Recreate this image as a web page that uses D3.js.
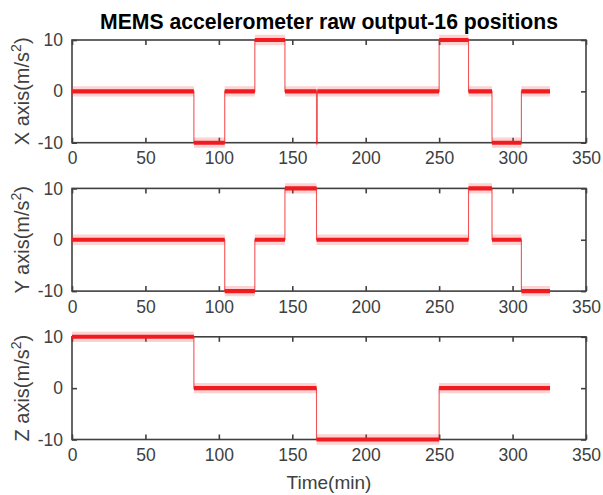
<!DOCTYPE html>
<html lang="en">
<head>
<meta charset="utf-8">
<title>MEMS accelerometer raw output</title>
<script src="https://cdn.jsdelivr.net/npm/d3@7"></script>
<style type="text/css">
body { margin: 0; background: #fff; }
text { font-family: "Liberation Sans", Arial, Helvetica, sans-serif; fill: #404040; }
</style>
</head>
<body>
<div id="chart"></div>
<script>
// time axis ticks (min) and acceleration ticks (m/s^2)
var timeTicks = [0, 50, 100, 150, 200, 250, 300, 350];
var accelTicks = [-10, 0, 10];

// step signal of each axis: edges in minutes, level held after each edge
var xEdges  = [0, 83, 104, 124.5, 145, 166.5, 167, 250, 270, 286, 306, 325.5];
var xLevels = [0, -10, 0, 10, 0, -10, 0, 10, 0, -10, 0];
var yEdges  = [0, 104, 124.5, 145, 166.5, 270, 286, 306, 325.5];
var yLevels = [0, -10, 0, 10, 0, 10, 0, -10];
var zEdges  = [0, 83, 166.5, 250, 325.5];
var zLevels = [10, 0, -10, 0];

// spread of the sensor noise around each level
var noiseCore = 0.4;
var noisePeak = 1.0;

var panels = [
  {name: "X", edges: xEdges, levels: xLevels},
  {name: "Y", edges: yEdges, levels: yLevels},
  {name: "Z", edges: zEdges, levels: zLevels}
];

var W = 603, H = 495;
var left = 72, right = 586, ph = 102.7;
var tops = [40, 188.4, 336.8];

var svg = d3.select("#chart").append("svg")
  .attr("width", W).attr("height", H);

var x = d3.scaleLinear().domain([0, 350]).range([left, right]);

svg.append("text")
  .attr("x", (left + right) / 2).attr("y", 29)
  .attr("text-anchor", "middle")
  .style("font-weight", "bold").style("font-size", "21.2px").style("fill", "#000")
  .text("MEMS accelerometer raw output-16 positions");

panels.forEach(function(p, i) {
  var top = tops[i];
  var y = d3.scaleLinear().domain([-10, 10]).range([top + ph, top]);
  var g = svg.append("g");

  // points for a stepped path
  var pts = p.levels.map(function(l, k) { return [p.edges[k], l]; });
  pts.push([p.edges[p.edges.length - 1], p.levels[p.levels.length - 1]]);

  function band(a) {
    return d3.area()
      .curve(d3.curveStepAfter)
      .x(function(d) { return x(d[0]); })
      .y0(function(d) { return y(d[1] - a); })
      .y1(function(d) { return y(d[1] + a); });
  }

  // axes: bottom/left with labels, top/right ticks only
  var fmt = function(d) { return String(d); };
  var axB = g.append("g").attr("transform", "translate(0," + (top + ph) + ")")
    .call(d3.axisBottom(x).tickValues(timeTicks).tickFormat(fmt).tickSizeInner(-5).tickSizeOuter(0).tickPadding(9));
  var axT = g.append("g").attr("transform", "translate(0," + top + ")")
    .call(d3.axisTop(x).tickValues(timeTicks).tickSizeInner(-5).tickSizeOuter(0).tickFormat(""));
  var axL = g.append("g").attr("transform", "translate(" + left + ",0)")
    .call(d3.axisLeft(y).tickValues(accelTicks).tickFormat(fmt).tickSizeInner(-5).tickSizeOuter(0).tickPadding(9));
  var axR = g.append("g").attr("transform", "translate(" + right + ",0)")
    .call(d3.axisRight(y).tickValues(accelTicks).tickSizeInner(-5).tickSizeOuter(0).tickFormat(""));

  [axB, axT, axL, axR].forEach(function(a) {
    a.select(".domain").remove();
    a.selectAll("line").attr("stroke", "#404040").attr("stroke-width", 1.6);
    a.selectAll("text").style("font-size", "17.5px").attr("fill", "#404040");
  });

  g.append("rect")
    .attr("x", left).attr("y", top)
    .attr("width", right - left).attr("height", ph)
    .attr("fill", "none").attr("stroke", "#404040").attr("stroke-width", 1.6);

  // noise envelope, dense core, and the step line itself
  g.append("path").datum(pts).attr("d", band(noisePeak))
    .attr("fill", "#f03030").attr("opacity", 0.22);
  g.append("path").datum(pts).attr("d", band(noiseCore))
    .attr("fill", "#f01c20");
  g.append("path").datum(pts)
    .attr("d", d3.line().curve(d3.curveStepAfter)
      .x(function(d) { return x(d[0]); })
      .y(function(d) { return y(d[1]); }))
    .attr("fill", "none").attr("stroke", "#f01c20").attr("stroke-width", 1.1).attr("opacity", 0.75);

  // y label with superscript
  var lab = svg.append("text")
    .attr("transform", "translate(29," + (top + ph / 2) + ") rotate(-90)")
    .attr("text-anchor", "middle")
    .style("font-size", "20px");
  lab.append("tspan").text(p.name + " axis(m/s");
  lab.append("tspan").attr("dy", -8).style("font-size", "14px").text("2");
  lab.append("tspan").attr("dy", 8).text(")");
});

svg.append("text")
  .attr("x", (left + right) / 2).attr("y", 489)
  .attr("text-anchor", "middle")
  .style("font-size", "19px")
  .text("Time(min)");
</script>
</body>
</html>
